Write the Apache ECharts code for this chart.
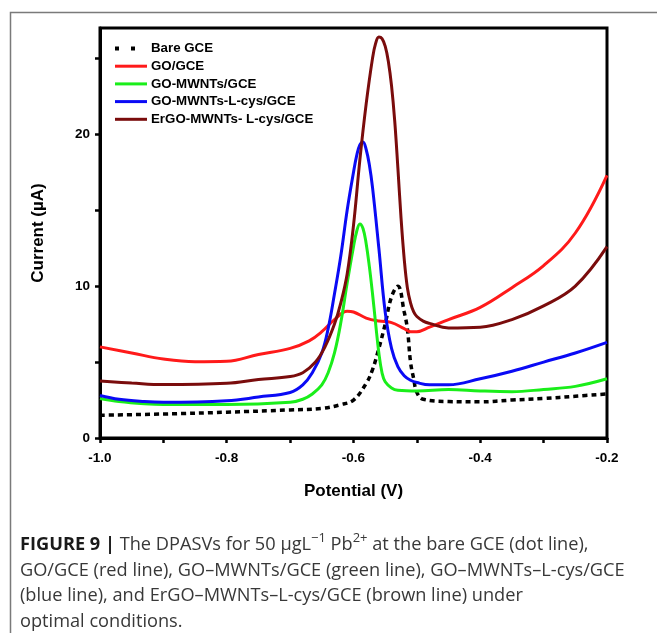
<!DOCTYPE html>
<html>
<head>
<meta charset="utf-8">
<script src="https://cdn.jsdelivr.net/npm/echarts@6/dist/echarts.min.js"></script>
<style>html,body{margin:0;padding:0;background:#fff}#c{width:657px;height:633px}</style>
</head>
<body>
<div id="c"></div>
<script>
// ---- data ----
const seriesNames = ['Bare GCE', 'GO/GCE', 'GO-MWNTs/GCE', 'GO-MWNTs-L-cys/GCE', 'ErGO-MWNTs- L-cys/GCE'];

const bareV = [-1.0, -0.9, -0.8, -0.7, -0.65, -0.62, -0.6, -0.58, -0.57, -0.56, -0.55, -0.54, -0.53, -0.52, -0.515, -0.51, -0.505, -0.5, -0.49, -0.45, -0.4, -0.35, -0.3, -0.25, -0.2];
const bareI = [1.5, 1.58, 1.7, 1.85, 1.95, 2.2, 2.5, 3.6, 4.5, 5.9, 7.5, 9.3, 10.0, 8.3, 7.2, 5.0, 3.9, 3.0, 2.55, 2.4, 2.38, 2.5, 2.6, 2.75, 2.9];

const goV = [-1.0, -0.95, -0.9, -0.85, -0.8, -0.75, -0.7, -0.67, -0.65, -0.63, -0.61, -0.6, -0.58, -0.56, -0.54, -0.52, -0.51, -0.5, -0.48, -0.45, -0.4, -0.35, -0.3, -0.25, -0.2];
const goI = [6.0, 5.6, 5.2, 5.02, 5.05, 5.5, 5.9, 6.4, 7.0, 7.8, 8.35, 8.3, 7.9, 7.7, 7.6, 7.2, 7.0, 7.0, 7.3, 7.8, 8.6, 9.9, 11.35, 13.5, 17.3];

const gmV = [-1.0, -0.97, -0.93, -0.9, -0.8, -0.7, -0.68, -0.665, -0.65, -0.64, -0.63, -0.62, -0.61, -0.6, -0.595, -0.59, -0.585, -0.58, -0.575, -0.57, -0.565, -0.56, -0.555, -0.55, -0.54, -0.53, -0.5, -0.45, -0.4, -0.35, -0.3, -0.25, -0.2];
const gmI = [2.6, 2.4, 2.25, 2.2, 2.2, 2.35, 2.55, 2.9, 3.5, 4.3, 5.6, 7.6, 10.2, 12.6, 13.6, 14.1, 13.8, 12.8, 11.3, 9.5, 7.5, 5.6, 4.3, 3.7, 3.3, 3.15, 3.1, 3.2, 3.1, 3.05, 3.2, 3.4, 3.9];

const gmlV = [-1.0, -0.97, -0.93, -0.9, -0.8, -0.75, -0.7, -0.68, -0.665, -0.65, -0.64, -0.63, -0.62, -0.61, -0.6, -0.595, -0.59, -0.585, -0.58, -0.575, -0.57, -0.56, -0.55, -0.54, -0.53, -0.52, -0.51, -0.5, -0.48, -0.45, -0.4, -0.35, -0.3, -0.25, -0.2];
const gmlI = [2.8, 2.55, 2.4, 2.35, 2.45, 2.7, 3.0, 3.5, 4.3, 5.6, 7.2, 9.5, 12.0, 15.0, 17.5, 18.6, 19.3, 19.5, 19.0, 18.0, 16.5, 12.5, 8.3, 5.9, 4.7, 4.1, 3.8, 3.65, 3.5, 3.5, 3.9, 4.4, 5.0, 5.6, 6.3];

const ergoV = [-1.0, -0.95, -0.9, -0.8, -0.75, -0.7, -0.68, -0.66, -0.645, -0.63, -0.62, -0.61, -0.6, -0.59, -0.58, -0.57, -0.565, -0.56, -0.555, -0.55, -0.545, -0.54, -0.535, -0.53, -0.525, -0.52, -0.515, -0.51, -0.505, -0.5, -0.49, -0.48, -0.45, -0.4, -0.35, -0.3, -0.25, -0.2];
const ergoI = [3.75, 3.62, 3.52, 3.6, 3.85, 4.05, 4.3, 5.0, 6.0, 7.5, 8.9, 10.8, 14.0, 18.3, 22.0, 25.0, 26.0, 26.4, 26.3, 25.8, 24.8, 23.2, 20.9, 17.8, 14.5, 11.8, 9.9, 8.9, 8.3, 8.0, 7.7, 7.55, 7.25, 7.3, 7.8, 8.7, 10.0, 12.6];

const xTickValues = [-1.0, -0.9, -0.8, -0.7, -0.6, -0.5, -0.4, -0.3, -0.2];
const xLabelValues = [-1.0, -0.8, -0.6, -0.4, -0.2];
const yTickValues = [0, 5, 10, 15, 20, 25];
const yLabelValues = [0, 10, 20];

const colors = ['#000000', '#ff1a1a', '#1aee1a', '#0a0af5', '#7a0c0c'];

function pairs(xs, ys) { return xs.map((x, i) => [x, ys[i]]); }
const allData = [pairs(bareV, bareI), pairs(goV, goI), pairs(gmV, gmI), pairs(gmlV, gmlI), pairs(ergoV, ergoI)];

const chart = echarts.init(document.getElementById('c'), null, {renderer: 'canvas'});
const boldFont = 'Liberation Sans, Arial, sans-serif';
const capFont = 'Open Sans, Roboto, sans-serif';

const legendData = seriesNames.map((n, i) => i === 0
  ? {name: n, lineStyle: {type: [4, 12], width: 4}}
  : {name: n});

const option = {
  backgroundColor: '#ffffff',
  animation: false,
  grid: {left: 100, right: 50, top: 28, bottom: 195, show: true, borderColor: '#000', borderWidth: 3, backgroundColor: 'transparent'},
  legend: {
    orient: 'vertical', left: 113, top: 42, padding: 0,
    itemWidth: 32, itemHeight: 12, itemGap: 4.7,
    data: legendData,
    itemStyle: {opacity: 0},
    lineStyle: {width: 3},
    textStyle: {fontFamily: boldFont, fontWeight: 'bold', fontSize: 13.3, color: '#000', lineHeight: 12, padding: [0,0,0,-1]}
  },
  xAxis: {
    type: 'value', min: -1.0, max: -0.2, interval: 0.1,
    name: 'Potential (V)', nameLocation: 'middle', nameGap: 45,
    nameTextStyle: {fontFamily: boldFont, fontWeight: 'bold', fontSize: 17, color: '#000'},
    axisLine: {show: true, lineStyle: {color: '#000', width: 3}},
    axisTick: {show: true, inside: false, length: 5, customValues: xTickValues, lineStyle: {color: '#000', width: 2.5}},
    splitLine: {show: false},
    axisLabel: {
      margin: 13, fontFamily: boldFont, fontWeight: 'bold', fontSize: 13.5, color: '#000',
      customValues: xLabelValues,
      formatter: function (v) { return v.toFixed(1); }
    }
  },
  yAxis: {
    type: 'value', min: 0, max: 27, interval: 5,
    name: 'Current (µA)', nameLocation: 'middle', nameGap: 53, nameRotate: 90,
    nameTextStyle: {fontFamily: boldFont, fontWeight: 'bold', fontSize: 17, color: '#000'},
    axisLine: {show: true, lineStyle: {color: '#000', width: 3}},
    axisTick: {show: true, inside: false, length: 5, customValues: yTickValues, lineStyle: {color: '#000', width: 2.5}},
    splitLine: {show: false},
    axisLabel: {
      margin: 10, fontFamily: boldFont, fontWeight: 'bold', fontSize: 13.5, color: '#000',
      customValues: yLabelValues,
      formatter: function (v) { return String(Math.round(v)); }
    }
  },
  series: seriesNames.map((n, i) => ({
    name: n, type: 'line', data: allData[i],
    symbol: 'none', smooth: 0.4,
    color: colors[i],
    lineStyle: {color: colors[i], width: i === 0 ? 3.5 : 3, type: i === 0 ? [5, 4] : 'solid'},
    clip: true
  })),
  graphic: [
    {type: 'rect', left: 8, top: 10, shape: {x: 0.5, y: 0.5, width: 720, height: 720}, style: {fill: 'none', stroke: '#7a7a7a', lineWidth: 1.5}, silent: true, z: -10},
    {type: 'text', left: 20, top: 532,
      style: {
        text: '{b|FIGURE 9 |} The DPASVs for 50 μgL{s|−1} Pb{s|2+} at the bare GCE (dot line),\nGO/GCE (red line), GO–MWNTs/GCE (green line), GO–MWNTs–L-cys/GCE\n(blue line), and ErGO–MWNTs–L-cys/GCE (brown line) under\noptimal conditions.',
        fontFamily: capFont, fontSize: 18.2, fill: '#383838', lineHeight: 25.7,
        rich: {
          b: {fontFamily: capFont, fontWeight: 'bold', fontSize: 18.2, fill: '#1a1a1a', lineHeight: 25.7},
          s: {fontFamily: capFont, fontSize: 13, fill: '#383838', lineHeight: 15, verticalAlign: 'top'}
        }
      }
    }
  ]
};
chart.setOption(option);
</script>
</body>
</html>
